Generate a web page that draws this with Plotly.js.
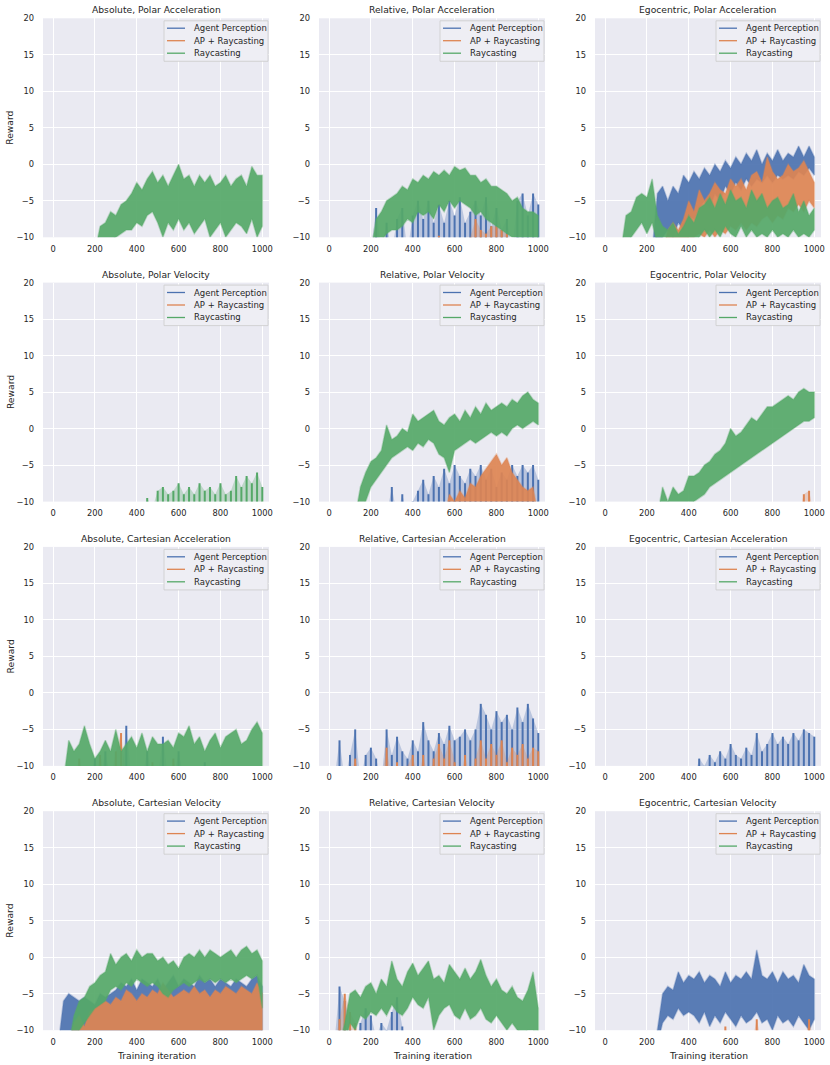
<!DOCTYPE html>
<html>
<head>
<meta charset="utf-8">
<script src="https://cdn.plot.ly/plotly-3.0.1.min.js"></script>
<style>
  html, body { margin: 0; padding: 0; background: #ffffff; }
  #chart { width: 830px; height: 1065px; }
</style>
</head>
<body>
<div id="chart"></div>
<script>
// Reward curves per observation / action setting, read off the figure
// (sampled every 25 iterations, upper and lower edge of each noisy band)

const iterations = [0, 25, 50, 75, 100, 125, 150, 175, 200, 225, 250, 275, 300, 325, 350, 375, 400, 425, 450, 475,
    500, 525, 550, 575, 600, 625, 650, 675, 700, 725, 750, 775, 800, 825, 850, 875, 900, 925, 950, 975, 1000];
const seriesNames = ['Agent Perception', 'AP + Raycasting', 'Raycasting'];
const seriesColors = ['#4C72B0', '#DD8452', '#55A868'];
const panelTitles = [
    'Absolute, Polar Acceleration', 'Relative, Polar Acceleration', 'Egocentric, Polar Acceleration',
    'Absolute, Polar Velocity', 'Relative, Polar Velocity', 'Egocentric, Polar Velocity',
    'Absolute, Cartesian Acceleration', 'Relative, Cartesian Acceleration', 'Egocentric, Cartesian Acceleration',
    'Absolute, Cartesian Velocity', 'Relative, Cartesian Velocity', 'Egocentric, Cartesian Velocity'
];
const xTicks = [0, 200, 400, 600, 800, 1000];
const yTicks = [-10, -5, 0, 5, 10, 15, 20];
const BELOW = -12; // values under the visible range

// 1 Absolute, Polar Acceleration
const absPolAccRayHi = [-12, -8.5, -8, -6.5, -7, -5.5, -5, -4, -2.5, -3.5, -2, -1, -2.5, -1.5, -3, -1.5, 0, -2, -1.5, -3,
    -1.5, -2.5, -1.5, -3, -2.5, -1.5, -3, -2, -1.5, -3, -0.3, -1.5, -1.5];
const absPolAccRayLo = [-12, -12, -11, -10.5, -10, -9.5, -9, -9, -8, -8.5, -7, -6.5, -8, -10, -8, -9, -7.5, -9, -8, -9.5,
    -8.5, -7.5, -10, -9, -8, -10, -9, -8, -8.5, -9.5, -7.5, -10, -8.5];

// 2 Relative, Polar Acceleration
const relPolAccApHi = [-12, -6, -12, -8, -12, -7.5, -6, -12, -7, -5, -7.5, -5, -8, -5.5, -8, -5, -7, -4.5, -8, -6.5,
    -5, -7, -4.5, -8.5, -6, -9, -7.5, -12, -5, -4, -7, -4, -5.5];
const relPolAccApRayHi = [-12, -9.8, -12, -12, -12, -12, -12, -10, -7.5, -9, -9.5, -8.5, -8.5, -9, -9.5, -12];
const relPolAccRayHi = [-12, -7.5, -6.5, -5, -4.5, -4, -3, -3.5, -2, -2.5, -1.5, -2, -1, -1.5, -0.8, -1.5, -0.3, -0.8, -0.5, -1.5,
    -1.5, -2.5, -2, -3, -3, -3.5, -4, -5, -4.5, -6, -6.5, -6.5, -7];
const relPolAccRayLo = [-12, -12, -10.5, -9.5, -9, -9, -8.5, -7.5, -8, -6.5, -7, -6.5, -7.5, -5.5, -6.5, -5, -6, -5, -5.5, -6,
    -7, -6.5, -7.5, -8, -8.5, -9, -9.5, -10, -10, -10.5, -10.5, -11, -11];

// 3 Egocentric, Polar Acceleration
const egoPolAccApHi = [-12, -4, -3, -5, -3, -4, -1.5, -2.5, -1, -2, -0.5, -1.5, 0, -1, 0.5, -0.5, 1, 0, 1.5, 0.5,
    2, 0, 1.5, 0.5, 2, 0.5, 1.5, 1, 2.5, 1, 2.5, 1];
const egoPolAccApLo = [-12, -12, -10, -9, -10, -8, -9, -7, -7.5, -6, -5, -6, -4, -5, -3, -4, -2.5, -3.5, -2, -3,
    -2, -2.5, -1.5, -2.5, -1.5, -2, -1.5, -2, -1, -1.5, -0.5, -1.5];
const egoPolAccApRayHi = [-12, -9, -8, -9, -7.5, -5, -6.5, -3.5, -5, -4, -2.5, -3.5, -4, -2, -3, -2, -3.5, -1.5, -1, -2.5,
    1, -1, -2, -1.5, 0, -1, -0.5, 0.5, -1, -2.5];
const egoPolAccApRayLo = [-12, -12, -12, -12, -12, -10, -10, -9.5, -10, -9, -10, -9, -9.5, -8.5, -9, -8, -9, -8, -8.5, -7.5,
    -7, -8, -7, -7.5, -6, -6.5, -5.5, -6.5, -5, -6];
const egoPolAccRayHi = [-12, -7, -6.5, -4.5, -4, -4.5, -2, -7, -8.5, -9, -8, -9.5, -8.5, -7, -8, -6, -5.5, -4.5, -6, -4,
    -5.5, -3.5, -5, -4.5, -6, -3.5, -5, -4, -6, -5, -4.5, -6, -5.5, -4, -6.5, -5, -7, -6];
const egoPolAccRayLo = [-12, -12, -10, -9, -8, -9.5, -8, -11, -12, -12, -12, -12, -12, -12, -12, -10, -9, -10, -9, -10,
    -8.5, -9.5, -10, -8.5, -10, -9, -10, -9.5, -10, -9, -10, -9.5, -10, -9, -10, -9.5, -10, -9];

// 4 Absolute, Polar Velocity
const absPolVelRayHi = [-12, -9.5, -11, -8.5, -8, -9, -8.5, -7.5, -9, -8, -9, -7.5, -8.5, -8, -9, -7.5, -9, -8.5, -6.5, -8,
    -6.5, -7.5, -6, -8];

// 5 Relative, Polar Velocity
const relPolVelApHi = [-12, -12, -8, -12, -9, -12, -10, -8.5, -7, -9, -6.5, -8, -5.5, -7.5, -5, -6.5, -7.5, -5.5, -6.5, -5,
    -7, -5.5, -8, -6, -7, -5, -6.5, -5, -6, -5, -7];
const relPolVelApRayHi = [-12, -9, -10, -8.5, -9.5, -7.5, -8, -6.5, -5.5, -4.5, -3.5, -5, -4, -6, -7, -8, -8.5, -8, -12];
const relPolVelRayHi = [-12, -8, -6, -4.5, -4, -3, 0.5, -1.5, -1, 0, -0.5, 2, 1, 1.5, 2, 2.5, 1, 0.5, 1.5, 2,
    1, 2.5, 1.5, 3, 2, 3.5, 2.5, 3, 3.5, 3, 4, 3.5, 4.5, 5, 4, 3.5];
const relPolVelRayLo = [-12, -11, -10, -8, -7, -6, -5, -4, -3.5, -3, -2.5, -3, -2, -2.5, -1.5, -2, -3.5, -4, -6, -3,
    -2.5, -2, -1.5, -2, -1.5, -1, -0.5, -1, -0.5, -1, 0, 0.5, 0, 0.5, 1, 0.5];

// 6 Egocentric, Polar Velocity
const egoPolVelApRayHi = [-12, -9, -8.5, -12];
const egoPolVelRayHi = [-12, -8, -10, -8, -9, -8.5, -6.5, -6.5, -6, -5, -4.5, -3.5, -3, -2, 0, -1, -0.5, 0.5, 1.5, 1,
    2, 3, 3, 3.5, 4, 4.5, 4, 5, 5.5, 5, 5];
const egoPolVelRayLo = [-12, -12, -12, -12, -12, -12, -11, -10, -9.5, -9, -8, -7.5, -7, -6.5, -6, -5.5, -5, -4.5, -4, -3.5,
    -3, -2.5, -2, -1.5, -1, -0.5, 0, 0.5, 1, 1, 1.5];

// 7 Absolute, Cartesian Acceleration
const absCarAccApHi = [-12, -9, -12, -8, -12, -12, -12, -4.5, -12, -12, -12, -8, -12, -12, -6, -12, -12, -8, -12, -12,
    -12, -12, -9.5, -12];
const absCarAccApRayHi = [-12, -9, -12, -12, -12, -8.5, -12, -12, -8, -5.5, -12, -12, -12, -12, -12, -9.5, -12, -12, -12, -9,
    -12];
const absCarAccRayHi = [-12, -6.5, -8, -7, -4.5, -7, -9, -8, -6.5, -8, -5, -8, -7, -6, -7.5, -5.5, -8, -6, -7, -7,
    -6.5, -7.5, -5.5, -6, -4.5, -7, -6, -8, -6.5, -5.5, -7.5, -6, -5.5, -5, -7, -6.5, -5, -4, -5.5];

// 8 Relative, Cartesian Acceleration
const relCarAccApHi = [-12, -6.5, -12, -8.5, -5, -12, -8.5, -7.5, -9, -12, -5, -8.5, -6, -8, -9, -6.5, -8, -4, -6.5, -8,
    -5.5, -7, -4.5, -6.5, -6, -5, -6.5, -5, -1.5, -3, -5, -2.5, -4, -3, -5, -2, -4, -1.5, -3.5, -5.5];
const relCarAccApRayHi = [-12, -9, -12, -12, -12, -12, -12, -7.5, -12, -9.5, -12, -10, -8.5, -12, -8.5, -12, -9, -7, -9, -6.5,
    -9.5, -12, -8.5, -12, -9, -6.5, -9, -7, -8.5, -6.5, -9.5, -7.5, -8.5, -7, -9, -7.5, -8];

// 9 Egocentric, Cartesian Acceleration
const egoCarAccApHi = [-12, -9, -10, -8.5, -9.5, -8, -9, -7, -8.5, -9, -7.5, -8.5, -5.5, -8, -7, -5.5, -7, -6, -7, -5.5,
    -6.5, -5, -5.5, -6];

// 10 Absolute, Cartesian Velocity
const absCarVelApHi = [-12, -6, -5, -5.5, -6, -5.5, -6, -6.5, -5, -5.5, -5, -4.5, -3.5, -4, -3, -4.5, -3, -3.5, -4, -3,
    -4.5, -3.5, -2.5, -4, -3, -3.5, -4, -2.5, -3.5, -3, -4, -3, -3.5, -4, -3, -3.5, -4, -3, -2.5, -4];
const absCarVelApRayHi = [-12, -9, -8, -9.5, -7.5, -7, -6.5, -6, -6.5, -5.5, -6, -4.5, -5, -6, -5, -5.5, -4.5, -5, -3.5, -4.5,
    -5.5, -5, -4.5, -5, -4, -5, -4.5, -5.5, -4.5, -5, -4, -4.5, -5, -4, -4.5, -5, -3.5, -5];
const absCarVelRayHi = [-12, -8, -6, -5.5, -4, -3.5, -2.5, -2, 0.5, -1, 0, 0.5, -0.5, 1, 0, 0.5, 0.5, -0.5, 0, -1,
    -0.5, -1.5, 0, 0.5, 0, 1, 0, 1, 0.5, 0, 0.5, 1, 0, 1, 1.5, 0.5, 1, -0.5];
const absCarVelRayLo = [-12, -12, -10, -9, -8, -7, -6.5, -6, -4.5, -4, -4.5, -3.5, -4, -3, -3.5, -4, -3.5, -4, -5, -5.5,
    -4.5, -4, -3.5, -4, -3.5, -3, -3.5, -3, -3.5, -3, -3.5, -3, -3.5, -3, -2.5, -3, -2.5, -7];

// 11 Relative, Cartesian Velocity
const relCarVelApHi = [-12, -4, -6, -9, -12, -9, -7, -8, -11, -9, -10, -7.5, -5.5, -9.5, -12];
const relCarVelApRayHi = [-12, -8.5, -5, -7.5, -9, -12];
const relCarVelRayHi = [-12, -9, -5, -4.5, -5.5, -4, -3.5, -5, -3, -4, -0.5, -3, -4, -2, -0.8, -2.5, -1.5, -0.5, -3, -2.5,
    -3.5, -1, -2, -3, -1.5, -3, -2, -0.3, -2.5, -4, -3, -4.5, -5, -4, -5.5, -6, -4.5, -2, -7];
const relCarVelRayLo = [-12, -12, -9, -10, -8, -8.5, -7.5, -8, -7, -8, -6.5, -7.5, -8, -7, -5.5, -6.5, -7, -5.5, -10, -8,
    -7, -6.5, -8, -8.5, -7, -8.5, -8, -7, -8.5, -9, -8, -9, -10, -9, -10, -10.5, -10, -10, -11];

// 12 Egocentric, Cartesian Velocity
const egoCarVelApHi = [-12, -10, -5, -4, -4.5, -2, -3.5, -2.5, -3, -2, -3.5, -2.5, -3, -4, -2, -3.5, -2.5, -3, -2, -3,
    1, -2.5, -3, -2, -3.5, -2, -3, -2.5, -3.5, -1, -2.5, -3];
const egoCarVelApLo = [-12, -12, -9, -8, -8.5, -7, -8, -7.5, -8, -9, -7.5, -9.5, -8, -9, -7.5, -8.5, -9.5, -8, -9, -8.5,
    -7.5, -9, -8.5, -10, -8, -9, -8.5, -9.5, -8, -9, -10, -8.5];
const egoCarVelApRayHi = [-12, -9.5, -12, -12, -12, -12, -12, -8.5, -12, -12, -12, -12, -12, -12, -12, -12, -12, -8.5, -12];

// panel -> bands (series index, first iteration, upper edge, lower edge, look)
// with no lower edge the band reaches below the axis; 'spikes' = sparse strokes
const panelBands = [
    [[2, 200, absPolAccRayHi, absPolAccRayLo]],
    [[0, 200, relPolAccApHi, null, 'spikes'], [1, 500, relPolAccApRayHi, null, 'spikes'], [2, 200, relPolAccRayHi, relPolAccRayLo]],
    [[0, 225, egoPolAccApHi, egoPolAccApLo], [1, 275, egoPolAccApRayHi, egoPolAccApRayLo], [2, 75, egoPolAccRayHi, egoPolAccRayLo]],
    [[2, 425, absPolVelRayHi, null, 'spikes']],
    [[0, 250, relPolVelApHi, null, 'spikes'], [1, 550, relPolVelApRayHi], [2, 125, relPolVelRayHi, relPolVelRayLo]],
    [[1, 925, egoPolVelApRayHi, null, 'spikes'], [2, 250, egoPolVelRayHi, egoPolVelRayLo]],
    [[0, 175, absCarAccApHi, null, 'spikes'], [1, 100, absCarAccApRayHi, null, 'spikes'], [2, 50, absCarAccRayHi]],
    [[0, 25, relCarAccApHi, null, 'spikes'], [1, 100, relCarAccApRayHi, null, 'spikes']],
    [[0, 425, egoCarAccApHi, null, 'spikes']],
    [[0, 25, absCarVelApHi], [1, 75, absCarVelApRayHi], [2, 75, absCarVelRayHi, absCarVelRayLo]],
    [[0, 25, relCarVelApHi, null, 'spikes'], [1, 25, relCarVelApRayHi, null, 'spikes'], [2, 50, relCarVelRayHi, relCarVelRayLo]],
    [[0, 225, egoCarVelApHi, egoCarVelApLo], [1, 550, egoCarVelApRayHi, null, 'spikes']]
];

// page geometry (px)
const W = 830, H = 1065;
const colLeft = [43, 319, 595];
const rowTop = [18.3, 282.6, 546.9, 811.2];
const plotW = 226, plotH = 219;
const px = x => x / W;
const py = y => 1 - y / H;

function hexToRgba(hex, a) {
    const n = parseInt(hex.slice(1), 16);
    return `rgba(${(n >> 16) & 255},${(n >> 8) & 255},${n & 255},${a})`;
}

// a sparse series gets a pale envelope plus one thin stroke per sample;
// a dense band is drawn as one filled shape with a soft edge
function bandTraces(band, n) {
    const [s, start, hi, lo0, look] = band;
    const xs = iterations.filter(x => x >= start).slice(0, hi.length);
    const spiky = look === 'spikes';
    const lo = lo0 || hi.map(() => BELOW);
    const ax = { xaxis: 'x' + (n === 1 ? '' : n), yaxis: 'y' + (n === 1 ? '' : n) };
    const out = [Object.assign({
        x: xs.concat(xs.slice().reverse()),
        y: hi.concat(lo.slice().reverse()),
        type: 'scatter',
        mode: 'lines',
        fill: 'toself',
        fillcolor: hexToRgba(seriesColors[s], spiky ? 0.3 : 0.92),
        line: { color: hexToRgba(seriesColors[s], spiky ? 0 : 0.35), width: spiky ? 0 : 1.6 },
        showlegend: false,
        hoverinfo: 'skip'
    }, ax)];
    if (spiky) {
        const sx = [], sy = [];
        xs.forEach((x, k) => {
            sx.push(x, x, null);
            sy.push(BELOW, hi[k], null);
        });
        out.push(Object.assign({
            x: sx, y: sy,
            type: 'scatter',
            mode: 'lines',
            line: { color: seriesColors[s], width: 2 },
            showlegend: false,
            hoverinfo: 'skip'
        }, ax));
    }
    return out;
}

const font = { family: 'DejaVu Sans, sans-serif', color: '#262626' };
const traces = [];
const layout = {
    width: W, height: H,
    margin: { l: 0, r: 0, t: 0, b: 0 },
    paper_bgcolor: '#ffffff',
    plot_bgcolor: '#EAEAF2',
    showlegend: false,
    hovermode: false,
    font: font,
    annotations: [],
    shapes: []
};

panelTitles.forEach((title, i) => {
    const n = i + 1;
    const r = Math.floor(i / 3), c = i % 3;
    const L = colLeft[c], T = rowTop[r], R = L + plotW, B = T + plotH;
    const sfx = n === 1 ? '' : n;

    panelBands[i].forEach(b => traces.push(...bandTraces(b, n)));

    layout['xaxis' + sfx] = {
        domain: [px(L), px(R)], anchor: 'y' + sfx,
        range: [-48, 1032], tickvals: xTicks,
        showgrid: true, gridcolor: '#ffffff', gridwidth: 1,
        zeroline: false, showline: false, ticks: '',
        ticklabelstandoff: 5,
        tickfont: { size: 8.3, color: '#262626' },
        fixedrange: true
    };
    layout['yaxis' + sfx] = {
        domain: [py(B), py(T)], anchor: 'x' + sfx,
        range: [-10, 20], tickvals: yTicks,
        showgrid: true, gridcolor: '#ffffff', gridwidth: 1,
        zeroline: false, showline: false, ticks: '',
        ticklabelstandoff: 8,
        tickfont: { size: 8.3, color: '#262626' },
        fixedrange: true
    };

    layout.annotations.push({
        text: title, xref: 'paper', yref: 'paper',
        x: px((L + R) / 2), y: py(T), xanchor: 'center', yanchor: 'bottom', yshift: 1,
        showarrow: false, font: { size: 9.2, color: '#262626' }
    });
    if (c === 0) {
        layout.annotations.push({
            text: 'Reward', xref: 'paper', yref: 'paper', textangle: -90,
            x: px(10), y: py((T + B) / 2), xanchor: 'center', yanchor: 'middle',
            showarrow: false, font: { size: 9.2, color: '#262626' }
        });
    }
    if (r === 3) {
        layout.annotations.push({
            text: 'Training iteration', xref: 'paper', yref: 'paper',
            x: px((L + R) / 2), y: py(1055), xanchor: 'center', yanchor: 'middle',
            showarrow: false, font: { size: 9.2, color: '#262626' }
        });
    }

    // legend box, upper right of every panel
    layout.shapes.push({
        type: 'rect', xref: 'paper', yref: 'paper',
        x0: px(R - 105), x1: px(R - 1), y0: py(T + 43), y1: py(T + 2.5),
        fillcolor: '#EEEEF4', line: { color: '#CCCCCC', width: 0.8 }
    });
    seriesNames.forEach((name, k) => {
        const yy = T + 9.9 + k * 12.5;
        layout.shapes.push({
            type: 'line', xref: 'paper', yref: 'paper',
            x0: px(R - 102), x1: px(R - 84), y0: py(yy), y1: py(yy),
            line: { color: seriesColors[k], width: 1.3 }
        });
        layout.annotations.push({
            text: name, xref: 'paper', yref: 'paper',
            x: px(R - 77), y: py(yy), xanchor: 'left', yanchor: 'middle',
            showarrow: false, font: { size: 8.5, color: '#262626' }
        });
    });
});

Plotly.newPlot('chart', traces, layout, { staticPlot: true, displayModeBar: false });
</script>
</body>
</html>
